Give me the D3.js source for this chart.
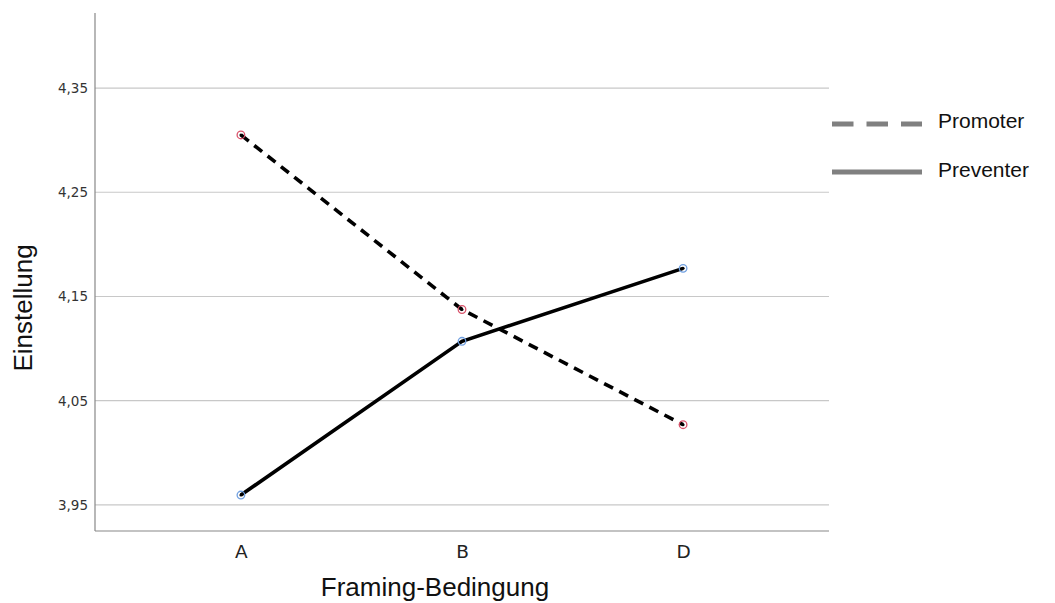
<!DOCTYPE html>
<html><head><meta charset="utf-8">
<script src="https://cdn.jsdelivr.net/npm/d3@7"></script>
<style>body{margin:0;background:#fff}svg{display:block}</style>
</head><body><svg id="c" width="1055" height="603"></svg>
<script>
const categories = ["A", "B", "D"];
const promoterValues = [4.305, 4.1375, 4.027];
const preventerValues = [3.9595, 4.107, 4.177];
const yTicks = [3.95, 4.05, 4.15, 4.25, 4.35];
const seriesNames = ["Promoter", "Preventer"];

(function () {
const svg = d3.select("#c");
const mLeft = 95, mRight = 829, mTop = 13, mBottom = 531;
const x = d3.scalePoint().domain(categories).range([mLeft, mRight]).padding(0.66);
const y = d3.scaleLinear().domain([3.925, 4.422]).range([mBottom, mTop]);
const fmt = d => d3.format(".2f")(d).replace(".", ",");

// gridlines
svg.append("g").selectAll("line").data(yTicks).join("line")
  .attr("x1", mLeft).attr("x2", mRight)
  .attr("y1", d => y(d)).attr("y2", d => y(d))
  .attr("stroke", "#c8c8c8").attr("stroke-width", 1.2);

// y axis
const ya = svg.append("g").attr("transform", `translate(${mLeft},0)`)
  .call(d3.axisLeft(y).tickValues(yTicks).tickFormat(fmt).tickSize(0).tickPadding(7));
ya.select(".domain").remove();
ya.selectAll("text").attr("font-family", "DejaVu Sans, sans-serif").attr("font-size", 13.5).attr("fill", "#333");
svg.append("line").attr("x1", mLeft).attr("x2", mLeft).attr("y1", mTop).attr("y2", mBottom)
  .attr("stroke", "#888").attr("stroke-width", 1.2);

// x axis
const xa = svg.append("g").attr("transform", `translate(0,${mBottom})`)
  .call(d3.axisBottom(x).tickSize(0));
xa.select(".domain").remove();
xa.selectAll("text").attr("y", 27).attr("dy", 0)
  .attr("font-family", "DejaVu Sans, sans-serif").attr("font-size", 18.5).attr("fill", "#222");
svg.append("line").attr("x1", mLeft).attr("x2", mRight).attr("y1", mBottom).attr("y2", mBottom)
  .attr("stroke", "#888").attr("stroke-width", 1.2);

// titles
svg.append("text").attr("x", 435).attr("y", 596).attr("text-anchor", "middle")
  .attr("font-family", "Liberation Sans, Arial, sans-serif").attr("font-size", 26).attr("fill", "#111")
  .text("Framing-Bedingung");
svg.append("text").attr("transform", `translate(32,308) rotate(-90)`)
  .attr("text-anchor", "middle")
  .attr("font-family", "Liberation Sans, Arial, sans-serif").attr("font-size", 26).attr("fill", "#111")
  .text("Einstellung");

// lines
const series = [
  {name: seriesNames[0], values: promoterValues, dash: "10,7", color: "#d9536b"},
  {name: seriesNames[1], values: preventerValues, dash: null, color: "#6f9fe0"}
];
const line = d3.line().x((d, i) => x(categories[i])).y(d => y(d));
series.forEach(s => {
  svg.append("path").datum(s.values).attr("d", line)
    .attr("fill", "none").attr("stroke", "#000").attr("stroke-width", 3.6)
    .attr("stroke-dasharray", s.dash);
});
series.forEach(s => {
  const g = svg.append("g");
  g.selectAll("circle.o").data(s.values).join("circle").attr("class", "o")
    .attr("cx", (d, i) => x(categories[i])).attr("cy", d => y(d)).attr("r", 3.8)
    .attr("fill", "none").attr("stroke", s.color).attr("stroke-width", 1.3);
  g.selectAll("circle.i").data(s.values).join("circle").attr("class", "i")
    .attr("cx", (d, i) => x(categories[i])).attr("cy", d => y(d)).attr("r", 1.5)
    .attr("fill", "#000");
});

// legend
const lg = svg.append("g");
series.forEach((s, i) => {
  const ly = 124 + i * 48;
  lg.append("line").attr("x1", 832).attr("x2", 922).attr("y1", ly).attr("y2", ly)
    .attr("stroke", "#808080").attr("stroke-width", 5)
    .attr("stroke-dasharray", s.dash ? "21.5,13" : null);
  lg.append("text").attr("x", 938).attr("y", ly + 4 + i * 1)
    .attr("font-family", "Liberation Sans, Arial, sans-serif").attr("font-size", 21).attr("fill", "#111")
    .text(s.name);
});
})();
</script></body></html>
